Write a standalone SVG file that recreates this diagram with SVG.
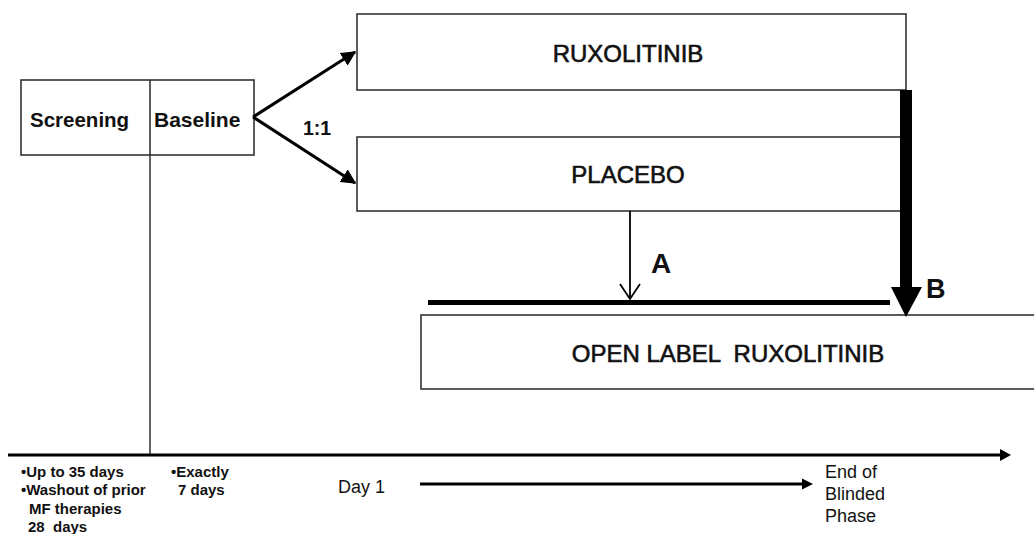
<svg xmlns="http://www.w3.org/2000/svg" width="1034" height="534" viewBox="0 0 1034 534">
  <style>
    .box { fill: #fff; stroke: #333; stroke-width: 1.6; }
    .lbl { font-family: "Liberation Sans", Arial, sans-serif; fill: #111; }
    .b { font-weight: bold; }
    .big { font-size: 24px; stroke: #111; stroke-width: 0.6; }
    .note { font-size: 15px; font-weight: bold; }
    .tl { font-size: 18px; }
  </style>
  <defs>
    <marker id="arrowFill" viewBox="0 0 10 10" refX="9" refY="5" markerWidth="5" markerHeight="5" orient="auto" markerUnits="strokeWidth">
      <path d="M0,0 L10,5 L0,10 z" fill="#000"/>
    </marker>
  </defs>

  <rect width="1034" height="534" fill="#fff"/>

  <g id="screening-baseline">
    <rect class="box" x="21" y="80" width="233" height="75"/>
    <line x1="150" y1="80" x2="150" y2="155" stroke="#333" stroke-width="1.6"/>
    <text class="lbl b" x="30" y="127" font-size="20.5">Screening</text>
    <text class="lbl b" x="154" y="127" font-size="21">Baseline</text>
  </g>

  <g id="ruxolitinib">
    <rect class="box" x="357" y="14" width="549" height="76"/>
    <text class="lbl big" x="628" y="62" text-anchor="middle">RUXOLITINIB</text>
  </g>

  <g id="placebo">
    <rect class="box" x="357" y="137" width="549" height="74"/>
    <text class="lbl big" x="628" y="183" text-anchor="middle">PLACEBO</text>
  </g>

  <g id="open-label">
    <rect class="box" x="421" y="315" width="640" height="74"/>
    <text class="lbl big" x="728" y="362" text-anchor="middle" font-size="25" xml:space="preserve">OPEN LABEL  RUXOLITINIB</text>
  </g>

  <g id="connectors" fill="none" stroke="#000">
    <!-- randomisation 1:1 -->
    <line x1="253" y1="117" x2="355" y2="52" stroke-width="3" marker-end="url(#arrowFill)"/>
    <line x1="253" y1="117" x2="355" y2="183" stroke-width="3" marker-end="url(#arrowFill)"/>
    <!-- screening divider down to the timeline -->
    <line x1="150" y1="155" x2="150" y2="455" stroke="#222" stroke-width="1.4"/>
    <!-- crossover A -->
    <line x1="630" y1="211" x2="630" y2="299" stroke-width="1.8"/>
    <polyline points="620,284 630,299 640,284" stroke-width="1.8"/>
    <!-- switch bar -->
    <line x1="428" y1="302.5" x2="890" y2="302.5" stroke-width="5"/>
    <!-- end of blinded phase B -->
    <rect x="900" y="90" width="12" height="198" fill="#000" stroke="none"/>
    <path d="M891,287 L922,287 L906,317 z" fill="#000" stroke="none"/>
    <!-- timeline -->
    <line x1="8" y1="455" x2="1003" y2="455" stroke-width="3"/>
    <path d="M1000,449 L1011,455 L1000,461 z" fill="#000" stroke="none"/>
    <!-- day 1 to end of blinded phase -->
    <line x1="420" y1="484" x2="805" y2="484" stroke-width="3"/>
    <path d="M802,478.5 L813,484 L802,489.5 z" fill="#000" stroke="none"/>
  </g>

  <g id="labels">
    <text class="lbl b" x="303" y="135" font-size="19.5">1:1</text>
    <text class="lbl b" x="651" y="273" font-size="28">A</text>
    <text class="lbl b" x="926" y="298" font-size="27">B</text>
    <text class="lbl note" x="21" y="477">•Up to 35 days</text>
    <text class="lbl note" x="21" y="495">•Washout of prior</text>
    <text class="lbl note" x="29" y="514">MF therapies</text>
    <text class="lbl note" x="28" y="532" xml:space="preserve">28  days</text>
    <text class="lbl note" x="171" y="477">•Exactly</text>
    <text class="lbl note" x="178" y="495">7 days</text>
    <text class="lbl tl" x="338" y="493">Day 1</text>
    <text class="lbl tl" x="825" y="478">End of</text>
    <text class="lbl tl" x="825" y="500">Blinded</text>
    <text class="lbl tl" x="825" y="522">Phase</text>
  </g>
</svg>
